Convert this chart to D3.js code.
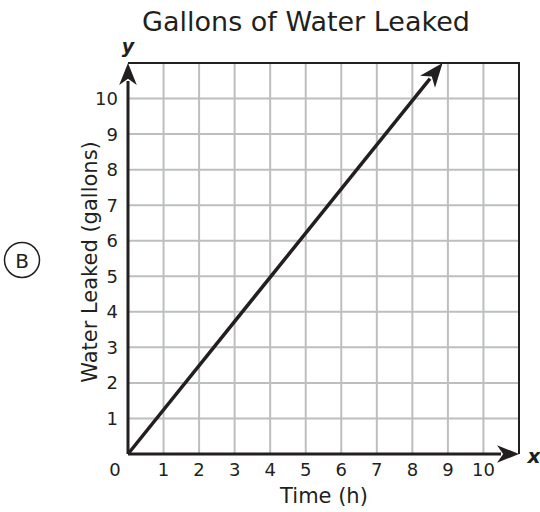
<!DOCTYPE html>
<html>
<head>
<meta charset="utf-8">
<script src="https://d3js.org/d3.v7.min.js"></script>
<style>
  body { margin: 0; background: #fff; }
  svg { font-family: "DejaVu Sans", Verdana, sans-serif; }
</style>
</head>
<body>
<div id="chart"></div>
<script>
// data
var title = "Gallons of Water Leaked";
var xTicks = [0, 1, 2, 3, 4, 5, 6, 7, 8, 9, 10];
var yTicks = [1, 2, 3, 4, 5, 6, 7, 8, 9, 10];
var gridVals = [1, 2, 3, 4, 5, 6, 7, 8, 9, 10];
var lineX = [0, 8.85];
var lineY = [0, 11];
var choice = "B";

var width = 540, height = 512;
var x = d3.scaleLinear().domain([0, 11]).range([128, 519]);
var y = d3.scaleLinear().domain([0, 11]).range([454, 63]);

var svg = d3.select("#chart").append("svg")
  .attr("width", width)
  .attr("height", height);

// grid
svg.append("g").selectAll("line")
  .data(gridVals).enter().append("line")
  .attr("x1", d => x(d)).attr("x2", d => x(d))
  .attr("y1", y(0)).attr("y2", y(11))
  .attr("stroke", "#bcbec0").attr("stroke-width", 2);
svg.append("g").selectAll("line")
  .data(gridVals).enter().append("line")
  .attr("y1", d => y(d)).attr("y2", d => y(d))
  .attr("x1", x(0)).attr("x2", x(11))
  .attr("stroke", "#bcbec0").attr("stroke-width", 2);

// top and right border
svg.append("path")
  .attr("d", "M" + x(0) + "," + y(11) + "H" + x(11) + "V" + y(0))
  .attr("fill", "none").attr("stroke", "#231f20").attr("stroke-width", 2);

// line with an arrow head at the end
function arrowLine(x1, y1, x2, y2, w, size) {
  var ang = Math.atan2(y2 - y1, x2 - x1);
  var bx = x2 - size * Math.cos(ang), by = y2 - size * Math.sin(ang);
  svg.append("line")
    .attr("x1", x1).attr("y1", y1).attr("x2", bx + 4 * Math.cos(ang)).attr("y2", by + 4 * Math.sin(ang))
    .attr("stroke", "#231f20").attr("stroke-width", w);
  var hw = size * 0.4, notch = size * 0.28;
  var px = -Math.sin(ang), py = Math.cos(ang);
  var p = [
    [x2, y2],
    [bx + px * hw, by + py * hw],
    [bx + notch * Math.cos(ang), by + notch * Math.sin(ang)],
    [bx - px * hw, by - py * hw]
  ];
  svg.append("path")
    .attr("d", "M" + p.map(d => d.join(",")).join("L") + "Z")
    .attr("fill", "#231f20");
}
arrowLine(x(0), y(0), x(11), y(0), 3, 22);
arrowLine(x(0), y(0), x(0), y(11), 3, 22);

// data line
arrowLine(x(lineX[0]), y(lineY[0]), x(lineX[1]), y(lineY[1]), 3.5, 24);

// tick labels
svg.append("g").selectAll("text")
  .data(xTicks).enter().append("text")
  .attr("x", d => d === 0 ? x(0) - 13 : x(d))
  .attr("y", 476)
  .attr("text-anchor", "middle")
  .attr("font-size", 18)
  .attr("fill", "#231f20")
  .text(d => d);
svg.append("g").selectAll("text")
  .data(yTicks).enter().append("text")
  .attr("x", 118)
  .attr("y", d => y(d) + 6.5)
  .attr("text-anchor", "end")
  .attr("font-size", 18)
  .attr("fill", "#231f20")
  .text(d => d);

// axis letters
svg.append("text").attr("x", 128).attr("y", 53)
  .attr("text-anchor", "middle").attr("font-size", 19)
  .attr("font-style", "italic").attr("font-weight", "bold")
  .attr("fill", "#231f20").text("y");
svg.append("text").attr("x", 534).attr("y", 463)
  .attr("text-anchor", "middle").attr("font-size", 20)
  .attr("font-style", "italic").attr("font-weight", "bold")
  .attr("fill", "#231f20").text("x");

// titles
svg.append("text").attr("x", 306).attr("y", 31)
  .attr("text-anchor", "middle").attr("font-size", 27)
  .attr("fill", "#231f20").text(title);
svg.append("text").attr("x", 324).attr("y", 503)
  .attr("text-anchor", "middle").attr("font-size", 21)
  .attr("fill", "#231f20").text("Time (h)");
svg.append("text")
  .attr("transform", "translate(97,262) rotate(-90)")
  .attr("text-anchor", "middle").attr("font-size", 21)
  .attr("fill", "#231f20").text("Water Leaked (gallons)");

// answer choice badge
svg.append("circle").attr("cx", 22).attr("cy", 260).attr("r", 17.5)
  .attr("fill", "none").attr("stroke", "#231f20").attr("stroke-width", 1.5);
svg.append("text").attr("x", 22).attr("y", 267.5)
  .attr("text-anchor", "middle").attr("font-size", 20)
  .attr("fill", "#231f20").text(choice);
</script>
</body>
</html>
